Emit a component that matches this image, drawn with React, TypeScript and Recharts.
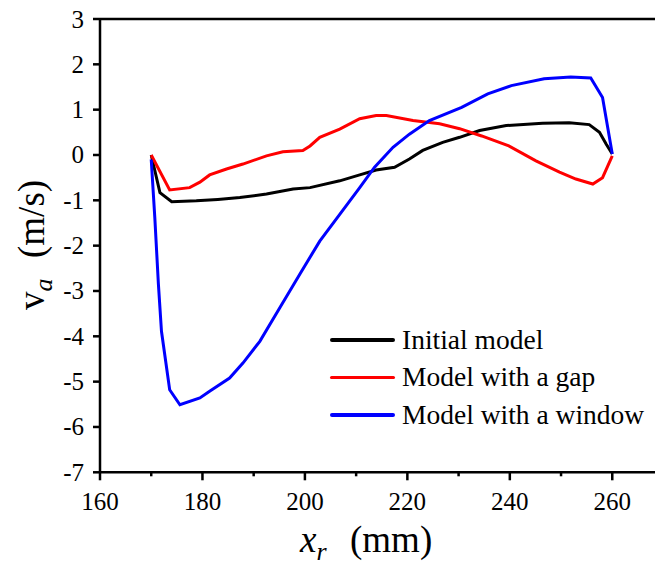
import React from 'react';
import {
  LineChart,
  Line,
  XAxis,
  YAxis,
  ReferenceLine
} from 'recharts';

const FONT = '"Liberation Serif", "Times New Roman", serif';

const xTicks = [160, 170, 180, 190, 200, 210, 220, 230, 240, 250, 260];
const yTicks = [-7, -6, -5, -4, -3, -2, -1, 0, 1, 2, 3];

const initialX = [170, 171.7, 174, 178.8, 183, 187.3, 192.5, 197.7, 201, 206.8, 210.7, 213.9, 217.5, 220.4, 223, 226.9, 230.2, 234.1, 239.3, 246.4, 251.6, 255.5, 257.5, 258.8, 260];
const initialV = [0, -0.83, -1.03, -1.01, -0.98, -0.94, -0.86, -0.75, -0.72, -0.57, -0.44, -0.33, -0.27, -0.09, 0.1, 0.28, 0.39, 0.54, 0.65, 0.7, 0.71, 0.67, 0.5, 0.24, 0.02];

const gapX = [170, 173.6, 177.5, 179.5, 181.4, 184.7, 187.9, 192.5, 195.7, 199.6, 201, 202.9, 206.8, 210.7, 213.9, 215.9, 221.1, 226.3, 230.2, 234.5, 239.8, 245.1, 249.7, 252.9, 256.2, 258.1, 260];
const gapV = [0, -0.77, -0.72, -0.6, -0.44, -0.31, -0.2, -0.02, 0.07, 0.1, 0.2, 0.39, 0.57, 0.8, 0.87, 0.87, 0.76, 0.69, 0.58, 0.42, 0.2, -0.13, -0.38, -0.53, -0.64, -0.5, -0.02];

const windowX = [170, 170.7, 171.4, 172, 173.6, 175.6, 179.5, 181.4, 185.3, 187.9, 191.2, 195.1, 199, 202.9, 206.8, 210.7, 213.6, 217.2, 220.4, 224.3, 230.6, 235.7, 240.3, 246.7, 251.9, 255.8, 258.1, 260];
const windowV = [-0.1, -1.38, -2.85, -3.89, -5.18, -5.51, -5.36, -5.21, -4.92, -4.59, -4.11, -3.37, -2.63, -1.9, -1.31, -0.72, -0.27, 0.17, 0.46, 0.76, 1.05, 1.35, 1.53, 1.68, 1.72, 1.7, 1.27, 0.02];

const seriesNames = ['Initial model', 'Model with a gap', 'Model with a window'];
const seriesColors = ['#000000', '#ff0000', '#0000ff'];

const toPoints = (xs: number[], vs: number[]) => xs.map((x, i) => ({ x, v: vs[i] }));

const XTick = (props: any) => {
  const { x, y, payload } = props;
  const major = payload.value % 20 === 0;
  return (
    <g>
      <line x1={x} x2={x} y1={y} y2={y + (major ? 8 : 4)} stroke="#000" strokeWidth={2.5} />
      {major && (
        <text x={x} y={y + 38} textAnchor="middle" fill="#000" style={{ fontFamily: FONT, fontSize: 25 }}>
          {payload.value}
        </text>
      )}
    </g>
  );
};

const YTick = (props: any) => {
  const { x, y, payload } = props;
  return (
    <text x={x} y={y + 8.5} textAnchor="end" fill="#000" style={{ fontFamily: FONT, fontSize: 25 }}>
      {payload.value}
    </text>
  );
};

const XTitle = () => (
  <text x={300} y={552} fill="#000" style={{ fontFamily: FONT, fontSize: 37 }}>
    <tspan fontStyle="italic">x</tspan>
    <tspan fontStyle="italic" fontSize={26} dy={8}>r</tspan>
    <tspan x={350} dy={-8}>(mm)</tspan>
  </text>
);

const YTitle = () => (
  <text transform="translate(44, 310) rotate(-90)" fill="#000" style={{ fontFamily: FONT, fontSize: 37 }}>
    <tspan x={0}>v</tspan>
    <tspan fontStyle="italic" fontSize={26} dy={8}>a</tspan>
    <tspan x={52} dy={-8}>(m/s)</tspan>
  </text>
);

export default function App() {
  return (
    <div style={{ position: 'absolute', left: 0, top: 0, width: 655, height: 564, overflow: 'hidden', background: '#fff' }}>
      <LineChart width={680} height={564} margin={{ top: 19, right: 16.5, bottom: 31.7, left: 0 }}>
        <XAxis
          type="number"
          dataKey="x"
          domain={[160, 270]}
          ticks={xTicks}
          interval={0}
          height={60}
          tickLine={false}
          tickSize={0}
          tickMargin={0}
          tick={<XTick />}
          axisLine={{ stroke: '#000', strokeWidth: 2.5 }}
          label={<XTitle />}
        />
        <YAxis
          type="number"
          domain={[-7, 3]}
          ticks={yTicks}
          interval={0}
          width={100}
          tickSize={7}
          tickMargin={9}
          tick={<YTick />}
          tickLine={{ stroke: '#000', strokeWidth: 2.5 }}
          axisLine={{ stroke: '#000', strokeWidth: 2.5 }}
          label={<YTitle />}
        />
        <ReferenceLine y={3} stroke="#000" strokeWidth={2.5} />
        <ReferenceLine x={270} stroke="#000" strokeWidth={2.5} />
        <Line data={toPoints(initialX, initialV)} dataKey="v" name={seriesNames[0]} stroke={seriesColors[0]} strokeWidth={3} dot={false} isAnimationActive={false} />
        <Line data={toPoints(gapX, gapV)} dataKey="v" name={seriesNames[1]} stroke={seriesColors[1]} strokeWidth={3} dot={false} isAnimationActive={false} />
        <Line data={toPoints(windowX, windowV)} dataKey="v" name={seriesNames[2]} stroke={seriesColors[2]} strokeWidth={3} dot={false} isAnimationActive={false} />
      </LineChart>
      <div style={{ position: 'absolute', left: 330, top: 321, fontFamily: FONT, fontSize: 27.5, color: '#000' }}>
        {seriesNames.map((name, i) => (
          <div key={name} style={{ display: 'flex', alignItems: 'center', height: 37.5 }}>
            <div style={{ width: 65, height: 3.5, background: seriesColors[i], borderRadius: 2, marginRight: 7 }} />
            <span style={{ whiteSpace: 'nowrap' }}>{name}</span>
          </div>
        ))}
      </div>
    </div>
  );
}
